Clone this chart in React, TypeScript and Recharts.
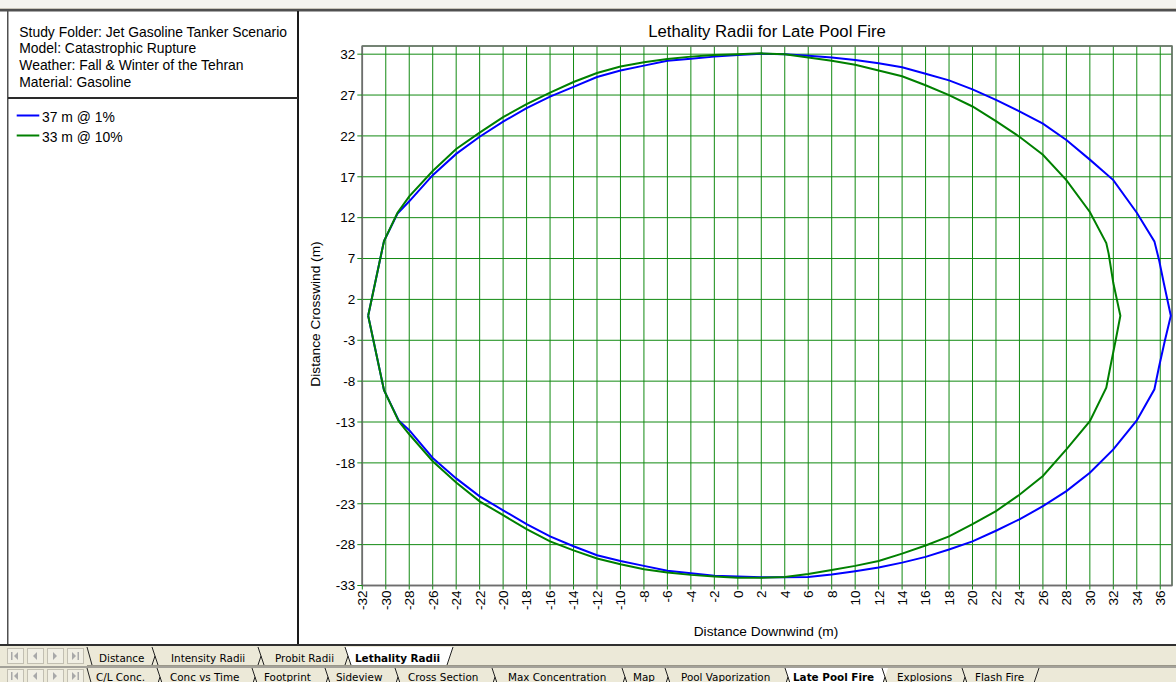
import React from 'react';
import { ComposedChart, Line, XAxis, YAxis, CartesianGrid, ReferenceArea } from 'recharts';

const FONT = '"Liberation Sans", Arial, Helvetica, sans-serif';
const TAB_FONT = '"DejaVu Sans", Verdana, sans-serif';

// ---- text content ----
const infoLines = [
  'Study Folder: Jet Gasoline Tanker Scenario',
  'Model: Catastrophic Rupture',
  'Weather: Fall & Winter of the Tehran',
  'Material: Gasoline',
];
const seriesNames = ['37 m @ 1%', '33 m @ 10%'];
const chartTitle = 'Lethality Radii for Late Pool Fire';
const xAxisTitle = 'Distance Downwind (m)';
const yAxisTitle = 'Distance Crosswind (m)';

// ---- axis ticks ----
const xTicks = [-32, -30, -28, -26, -24, -22, -20, -18, -16, -14, -12, -10, -8, -6, -4, -2, 0, 2, 4, 6, 8, 10, 12, 14, 16, 18, 20, 22, 24, 26, 28, 30, 32, 34, 36];
const yTicks = [-33, -28, -23, -18, -13, -8, -3, 2, 7, 12, 17, 22, 27, 32];

// ---- series: 37 m @ 1% (blue), closed contour ----
const blueX = [
  -31.5, -30.15, -29.0, -28, -26, -24, -22, -20, -18, -16, -14, -12, -10, -8, -6, -4, -2, 0, 2, 4, 6, 8, 10, 12, 14, 16, 18, 20, 22, 24, 26, 28, 30, 32, 34, 35.5, 35.9, 36.3, 36.9,
  36.4, 35.9, 35.5, 34, 32, 30, 28, 26, 24, 22, 20, 18, 16, 14, 12, 10, 8, 6, 4, 2, 0, -2, -4, -6, -8, -10, -12, -14, -16, -18, -20, -22, -24, -26, -28, -28.9, -30.15, -31.5,
];
const blueY = [
  0, 9.15, 12.5, 14.0, 17.2, 19.8, 21.9, 23.75, 25.4, 26.8, 28.0, 29.2, 30.0, 30.6, 31.2, 31.45, 31.7, 31.9, 32.05, 32.0, 31.8, 31.6, 31.3, 30.9, 30.4, 29.6, 28.8, 27.7, 26.4, 25.0, 23.5, 21.5, 19.1, 16.6, 12.6, 9.1, 6.8, 4.0, 0,
  -3.0, -6.2, -9.0, -12.8, -16.35, -19.2, -21.45, -23.3, -24.9, -26.3, -27.6, -28.6, -29.5, -30.2, -30.8, -31.25, -31.65, -31.95, -32.0, -32.0, -31.9, -31.8, -31.5, -31.2, -30.6, -30.0, -29.3, -28.2, -27.0, -25.5, -23.8, -22.1, -19.9, -17.4, -14.0, -12.8, -9.1, 0,
];

// ---- series: 33 m @ 10% (green), closed contour ----
const greenX = [
  -31.5, -30.15, -29.0, -28, -26, -24, -22, -20, -18, -16, -14, -12, -10, -8, -6, -4, -2, 0, 2, 4, 6, 8, 10, 12, 14, 16, 18, 20, 22, 24, 26, 28, 30, 31.4, 31.6, 32.0, 32.6,
  32.2, 31.75, 31.4, 30, 28, 26, 24, 22, 20, 18, 16, 14, 12, 10, 8, 6, 4, 2, 0, -2, -4, -6, -8, -10, -12, -14, -16, -18, -20, -22, -24, -26, -28, -28.9, -30.15, -31.5,
];
const greenY = [
  0, 9.15, 12.6, 14.6, 17.7, 20.4, 22.4, 24.3, 25.9, 27.3, 28.6, 29.7, 30.5, 31.0, 31.4, 31.7, 31.9, 32.0, 32.1, 32.0, 31.6, 31.2, 30.7, 30.0, 29.3, 28.2, 27.0, 25.6, 23.8, 21.9, 19.7, 16.6, 12.7, 8.9, 7.6, 4.0, 0,
  -3.0, -6.2, -8.8, -12.9, -16.35, -19.6, -21.9, -23.9, -25.5, -27.0, -28.1, -29.1, -30.0, -30.6, -31.1, -31.6, -31.95, -32.05, -32.05, -31.9, -31.7, -31.4, -31.0, -30.4, -29.7, -28.7, -27.6, -26.1, -24.4, -22.7, -20.4, -17.8, -14.5, -12.9, -9.1, 0,
];

// ---- tab strip labels ----
const tabsRow1 = ['Distance', 'Intensity Radii', 'Probit Radii', 'Lethality Radii'];
const tabsRow2 = ['C/L Conc.', 'Conc vs Time', 'Footprint', 'Sideview', 'Cross Section', 'Max Concentration', 'Map', 'Pool Vaporization', 'Late Pool Fire', 'Explosions', 'Flash Fire'];

// tab layout (chrome, not chart data)
const row1TextX = [99, 171, 275, 355];
const row1Bounds = [87, 152, 258, 345, 447];
const row1Active = 3;
const row2TextX = [96, 170, 264, 336, 408, 508, 633, 681, 793, 897, 975];
const row2Bounds = [87, 157, 252, 325, 395, 492, 622, 665, 785, 882, 962, 1033];
const row2Active = 8;

const COLORS = ['#0000ff', '#008000'];

const XTick = (props: any) => {
  const { x, y, payload } = props;
  return (
    <text
      transform={`translate(${x},${y}) rotate(-90)`}
      textAnchor="end"
      dy="0.36em"
      fontSize={13.5}
      fontFamily={FONT}
      fill="#000"
    >
      {payload.value}
    </text>
  );
};

function TabRow({ labels, textX, bounds, active, top, bottom, baseline }: any) {
  const mid = (top + bottom) / 2;
  const items: any[] = [];
  const a0 = bounds[active];
  const a1 = bounds[active + 1];
  items.push(
    <polygon key="act" points={`${a0},${top} ${a1 + 6},${top} ${a1},${bottom} ${a0 + 6},${bottom}`} fill="#ffffff" />
  );
  bounds.forEach((b: number, i: number) => {
    if (i === 0) {
      items.push(<line key={'b' + i} x1={b} y1={top} x2={b + 5} y2={bottom} stroke="#222" strokeWidth={1} />);
    } else if (i === bounds.length - 1) {
      items.push(<line key={'b' + i} x1={b} y1={bottom} x2={b + 6} y2={top} stroke="#222" strokeWidth={1} />);
    } else {
      items.push(<line key={'b' + i} x1={b} y1={top} x2={b + 6} y2={bottom} stroke="#222" strokeWidth={1} />);
      items.push(<line key={'c' + i} x1={b} y1={bottom} x2={b + 3} y2={mid} stroke="#222" strokeWidth={1} />);
    }
  });
  labels.forEach((lab: string, i: number) => {
    items.push(
      <text key={'t' + i} x={textX[i]} y={baseline} fontSize={10.4} fontFamily={TAB_FONT} fontWeight={i === active ? 'bold' : 'normal'} fill="#000">
        {lab}
      </text>
    );
  });
  return <g>{items}</g>;
}

function NavButtons({ top, h }: any) {
  const xs = [7, 27, 47, 67];
  const g = '#a9a9a9';
  const cy = top + h / 2;
  return (
    <g>
      {xs.map((x, i) => (
        <g key={i}>
          <rect x={x + 0.5} y={top + 0.5} width={16} height={h - 1} fill="#f1efe4" stroke="#c2bfb2" />
          {i === 0 && (
            <g>
              <rect x={x + 4} y={cy - 4} width={1.5} height={8} fill={g} />
              <polygon points={`${x + 11},${cy - 4} ${x + 11},${cy + 4} ${x + 7},${cy}`} fill={g} />
            </g>
          )}
          {i === 1 && <polygon points={`${x + 10},${cy - 4} ${x + 10},${cy + 4} ${x + 6},${cy}`} fill={g} />}
          {i === 2 && <polygon points={`${x + 6},${cy - 4} ${x + 6},${cy + 4} ${x + 10},${cy}`} fill={g} />}
          {i === 3 && (
            <g>
              <polygon points={`${x + 5},${cy - 4} ${x + 5},${cy + 4} ${x + 9},${cy}`} fill={g} />
              <rect x={x + 10.5} y={cy - 4} width={1.5} height={8} fill={g} />
            </g>
          )}
        </g>
      ))}
    </g>
  );
}

export default function App() {
  const blueData = blueX.map((x, i) => ({ x, y: blueY[i] }));
  const greenData = greenX.map((x, i) => ({ x, y: greenY[i] }));
  const seriesData = [blueData, greenData];

  return (
    <div style={{ position: 'absolute', left: 0, top: 0, width: 1176, height: 682, background: '#ffffff', overflow: 'hidden', fontFamily: FONT }}>
      <svg width={1176} height={682} style={{ position: 'absolute', left: 0, top: 0 }}>
        {/* top strip */}
        <rect x={0} y={0} width={1176} height={8} fill="#f5f4ef" />
        <rect x={0} y={8} width={1176} height={1} fill="#c9c5b9" />
        <rect x={0} y={9} width={1176} height={2.5} fill="#505050" />
        {/* left panel borders */}
        <rect x={7} y={11} width={1.5} height={634} fill="#505050" />
        <rect x={297} y={11} width={2} height={634} fill="#1a1a1a" />
        <rect x={8} y={97} width={290} height={2} fill="#2a2a2a" />
        {/* info text */}
        {infoLines.map((t, i) => (
          <text key={i} x={19.3} y={36.6 + i * 16.85} fontSize={13.9} fontFamily={FONT} fill="#000">
            {t}
          </text>
        ))}
        {/* legend */}
        {seriesNames.map((n, i) => (
          <g key={n}>
            <line x1={16.7} x2={39.3} y1={115.5 + i * 20} y2={115.5 + i * 20} stroke={COLORS[i]} strokeWidth={2} />
            <text x={42} y={122 + i * 20} fontSize={13.9} fontFamily={FONT} fill="#000">
              {n}
            </text>
          </g>
        ))}
        {/* titles */}
        <text x={767} y={36.5} textAnchor="middle" fontSize={16.7} fontFamily={FONT} fill="#000">
          {chartTitle}
        </text>
        <text x={766} y={636} textAnchor="middle" fontSize={13.7} fontFamily={FONT} fill="#000">
          {xAxisTitle}
        </text>
        <text x={320} y={314} textAnchor="middle" fontSize={13.7} fontFamily={FONT} fill="#000" transform="rotate(-90, 320, 314)">
          {yAxisTitle}
        </text>
        {/* bottom tab strip */}
        <rect x={0} y={644} width={1176} height={2} fill="#303030" />
        <rect x={0} y={646} width={1176} height={36} fill="#ece9d8" />
        <rect x={87} y={665} width={1089} height={1} fill="#9a9789" />
        <rect x={0} y={666.5} width={1176} height={1} fill="#5a5a5a" />
        <NavButtons top={648} h={16} />
        <NavButtons top={669} h={14} />
        <TabRow labels={tabsRow1} textX={row1TextX} bounds={row1Bounds} active={row1Active} top={647} bottom={665} baseline={661.5} />
        <TabRow labels={tabsRow2} textX={row2TextX} bounds={row2Bounds} active={row2Active} top={668} bottom={686} baseline={681} />
      </svg>

      <div style={{ position: 'absolute', left: 300, top: 12 }}>
        <ComposedChart width={876} height={634} margin={{ top: 34, right: 4, left: 0, bottom: 0 }}>
          <CartesianGrid stroke="#128a12" strokeWidth={1} />
          <XAxis
            type="number"
            dataKey="x"
            domain={[-32, 37]}
            ticks={xTicks}
            interval={0}
            allowDataOverflow
            height={60.5}
            tickSize={4}
            tickMargin={1}
            tickLine={{ stroke: '#128a12' }}
            axisLine={{ stroke: '#6e6e6e', strokeWidth: 1.5 }}
            tick={<XTick />}
          />
          <YAxis
            type="number"
            dataKey="y"
            domain={[-33, 33]}
            ticks={yTicks}
            interval={0}
            allowDataOverflow
            width={62.3}
            tickSize={5}
            tickMargin={2}
            tickLine={{ stroke: '#128a12' }}
            axisLine={{ stroke: '#6e6e6e', strokeWidth: 1.5 }}
            tick={{ fill: '#000', fontSize: 13.5, fontFamily: FONT }}
          />
          <ReferenceArea x1={-32} x2={37} y1={-33} y2={33} fill="none" fillOpacity={0} stroke="#6e6e6e" strokeWidth={1.5} />
          {seriesData.map((d, i) => (
            <Line
              key={seriesNames[i]}
              name={seriesNames[i]}
              data={d}
              dataKey="y"
              type="linear"
              stroke={COLORS[i]}
              strokeWidth={2}
              dot={false}
              activeDot={false}
              isAnimationActive={false}
              legendType="none"
            />
          ))}
        </ComposedChart>
      </div>
    </div>
  );
}
